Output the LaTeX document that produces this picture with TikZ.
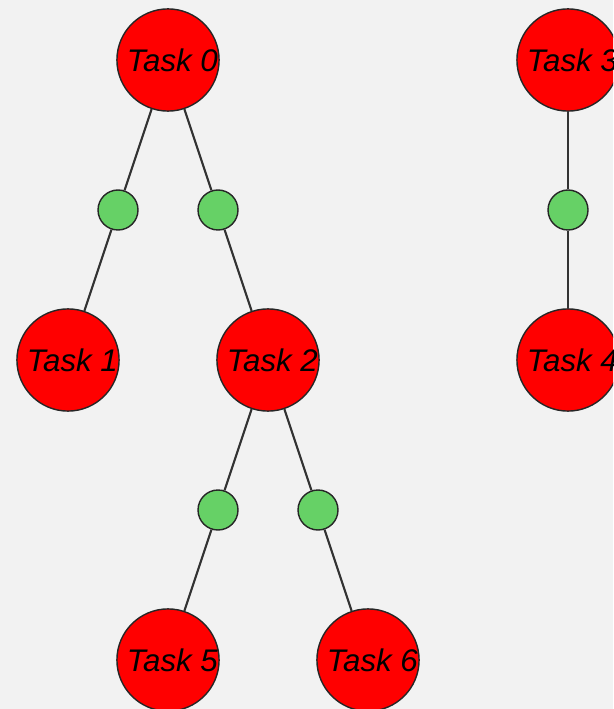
\documentclass[tikz,border=0pt]{standalone}
\usepackage{fontspec}
\setmainfont{Liberation Sans}
\definecolor{bgray}{HTML}{F2F2F2}
\definecolor{taskred}{HTML}{FF0000}
\definecolor{linkgreen}{HTML}{66D166}
\definecolor{edgegray}{HTML}{333333}
\tikzset{
  task/.style={circle, draw=black!85, line width=0.8pt, fill=taskred,
    minimum size=2cm, inner sep=0pt,
    font=\fontsize{17.8}{20}\selectfont\itshape},
  link/.style={circle, draw=black!85, line width=0.8pt, fill=linkgreen,
    minimum size=0.8cm, inner sep=0pt},
  edge/.style={draw=edgegray, line width=1.2pt}
}
\begin{document}
\begin{tikzpicture}[x=0.02cm, y=-0.02cm]
% Sfondo
\fill[bgray] (0,0) rectangle (613,709);
\clip (0,0) rectangle (613,709);
% Task
\node[task] (t0) at (168,60) {\hspace{5pt}Task 0};
\node[task] (t3) at (568,60) {\hspace{5pt}Task 3};
\node[task] (t1) at (68,360) {\hspace{5pt}Task 1};
\node[task] (t2) at (268,360) {\hspace{5pt}Task 2};
\node[task] (t4) at (568,360) {\hspace{5pt}Task 4};
\node[task] (t5) at (168,660) {\hspace{5pt}Task 5};
\node[task] (t6) at (368,660) {\hspace{5pt}Task 6};
% Collegamenti
\node[link] (l01) at (118,210) {};
\node[link] (l02) at (218,210) {};
\node[link] (l34) at (568,210) {};
\node[link] (l25) at (218,510) {};
\node[link] (l26) at (318,510) {};
\draw[edge] (t0) -- (l01) -- (t1);
\draw[edge] (t0) -- (l02) -- (t2);
\draw[edge] (t3) -- (l34) -- (t4);
\draw[edge] (t2) -- (l25) -- (t5);
\draw[edge] (t2) -- (l26) -- (t6);
\end{tikzpicture}
\end{document}
